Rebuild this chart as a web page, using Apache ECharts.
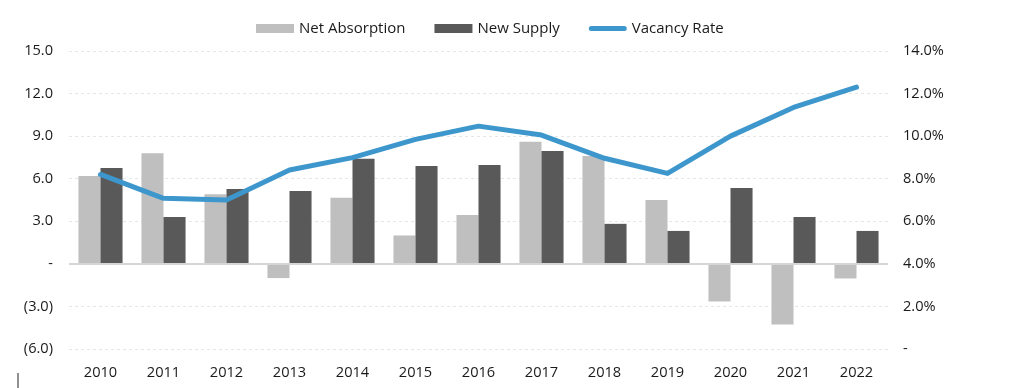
<!DOCTYPE html>
<html>
<head>
<meta charset="utf-8">
<script src="https://cdn.jsdelivr.net/npm/echarts@6/dist/echarts.min.js"></script>
<style>
html,body{margin:0;padding:0;background:#fff;}
#c{width:1024px;height:388px;}
</style>
</head>
<body>
<div id="c"></div>
<script>
const years = ['2010','2011','2012','2013','2014','2015','2016','2017','2018','2019','2020','2021','2022'];
const netAbsorption = [6.2, 7.8, 4.9, -1.0, 4.65, 2.0, 3.45, 8.6, 7.6, 4.5, -2.65, -4.27, -1.03];
const newSupply = [6.76, 3.3, 5.28, 5.14, 7.4, 6.9, 6.97, 7.96, 2.82, 2.32, 5.35, 3.3, 2.32];
const vacancyRate = [8.2, 7.08, 7.0, 8.41, 8.99, 9.85, 10.47, 10.05, 8.96, 8.25, 10.0, 11.35, 12.3];

const FONT = 'Open Sans';
const FS = 14.6;
const lineIcon = 'path://M0,0 L0.05,0 L0.05,0.05 Z M0,9 L0.05,9 L0.05,8.95 Z M2.5,2 L35.5,2 A2.5,2.5 0 0 1 35.5,7 L2.5,7 A2.5,2.5 0 0 1 2.5,2 Z';
const chart = echarts.init(document.getElementById('c'));
chart.setOption({
  animation: false,
  textStyle: { fontFamily: FONT },
  legend: {
    top: 16,
    left: 251,
    itemWidth: 38,
    itemHeight: 9,
    itemGap: 29,
    textStyle: { fontFamily: FONT, fontSize: 15, color: '#1a1a1a' },
    data: [
      { name: 'Net Absorption', icon: 'rect' },
      { name: 'New Supply', icon: 'rect' },
      { name: 'Vacancy Rate', icon: lineIcon, itemStyle: { color: '#3d97cc' } }
    ]
  },
  grid: { left: 69, right: 136, top: 51, bottom: 39 },
  xAxis: {
    type: 'category',
    data: years,
    axisLine: { show: false },
    axisTick: { show: false },
    axisLabel: { fontSize: FS, color: '#1a1a1a', margin: 16 }
  },
  yAxis: [
    {
      type: 'value', min: -6, max: 15, interval: 3,
      axisLine: { show: false }, axisTick: { show: false },
      splitLine: { lineStyle: { color: '#e6e6e6', type: [3, 3] } },
      axisLabel: {
        fontSize: FS, color: '#1a1a1a', margin: 16,
        formatter: v => v === 0 ? '-' : (v < 0 ? '(' + Math.abs(v).toFixed(1) + ')' : v.toFixed(1))
      }
    },
    {
      type: 'value', min: 0, max: 14, interval: 2,
      axisLine: { show: false }, axisTick: { show: false },
      splitLine: { show: false },
      axisLabel: {
        fontSize: FS, color: '#1a1a1a', margin: 15,
        formatter: v => v === 0 ? '-' : v.toFixed(1) + '%'
      }
    }
  ],
  series: [
    {
      name: 'Net Absorption', type: 'bar', data: netAbsorption,
      itemStyle: { color: '#bfbfbf' },
      barGap: '0%', barCategoryGap: '30%',
      markLine: {
        silent: true, symbol: 'none', label: { show: false },
        lineStyle: { color: '#d6d6d6', type: 'solid', width: 2 },
        data: [{ yAxis: 0 }]
      }
    },
    {
      name: 'New Supply', type: 'bar', data: newSupply,
      itemStyle: { color: '#595959' },
      barGap: '0%', barCategoryGap: '30%'
    },
    {
      name: 'Vacancy Rate', type: 'line', yAxisIndex: 1, data: vacancyRate,
      symbol: 'none',
      lineStyle: { color: '#3d97cc', width: 5, cap: 'round', join: 'round' },
      itemStyle: { color: '#3d97cc' },
      z: 5
    }
  ],
  graphic: [
    { type: 'line', shape: { x1: 18, y1: 373, x2: 18, y2: 388 }, style: { stroke: '#222', lineWidth: 1 } }
  ]
});
</script>
</body>
</html>
